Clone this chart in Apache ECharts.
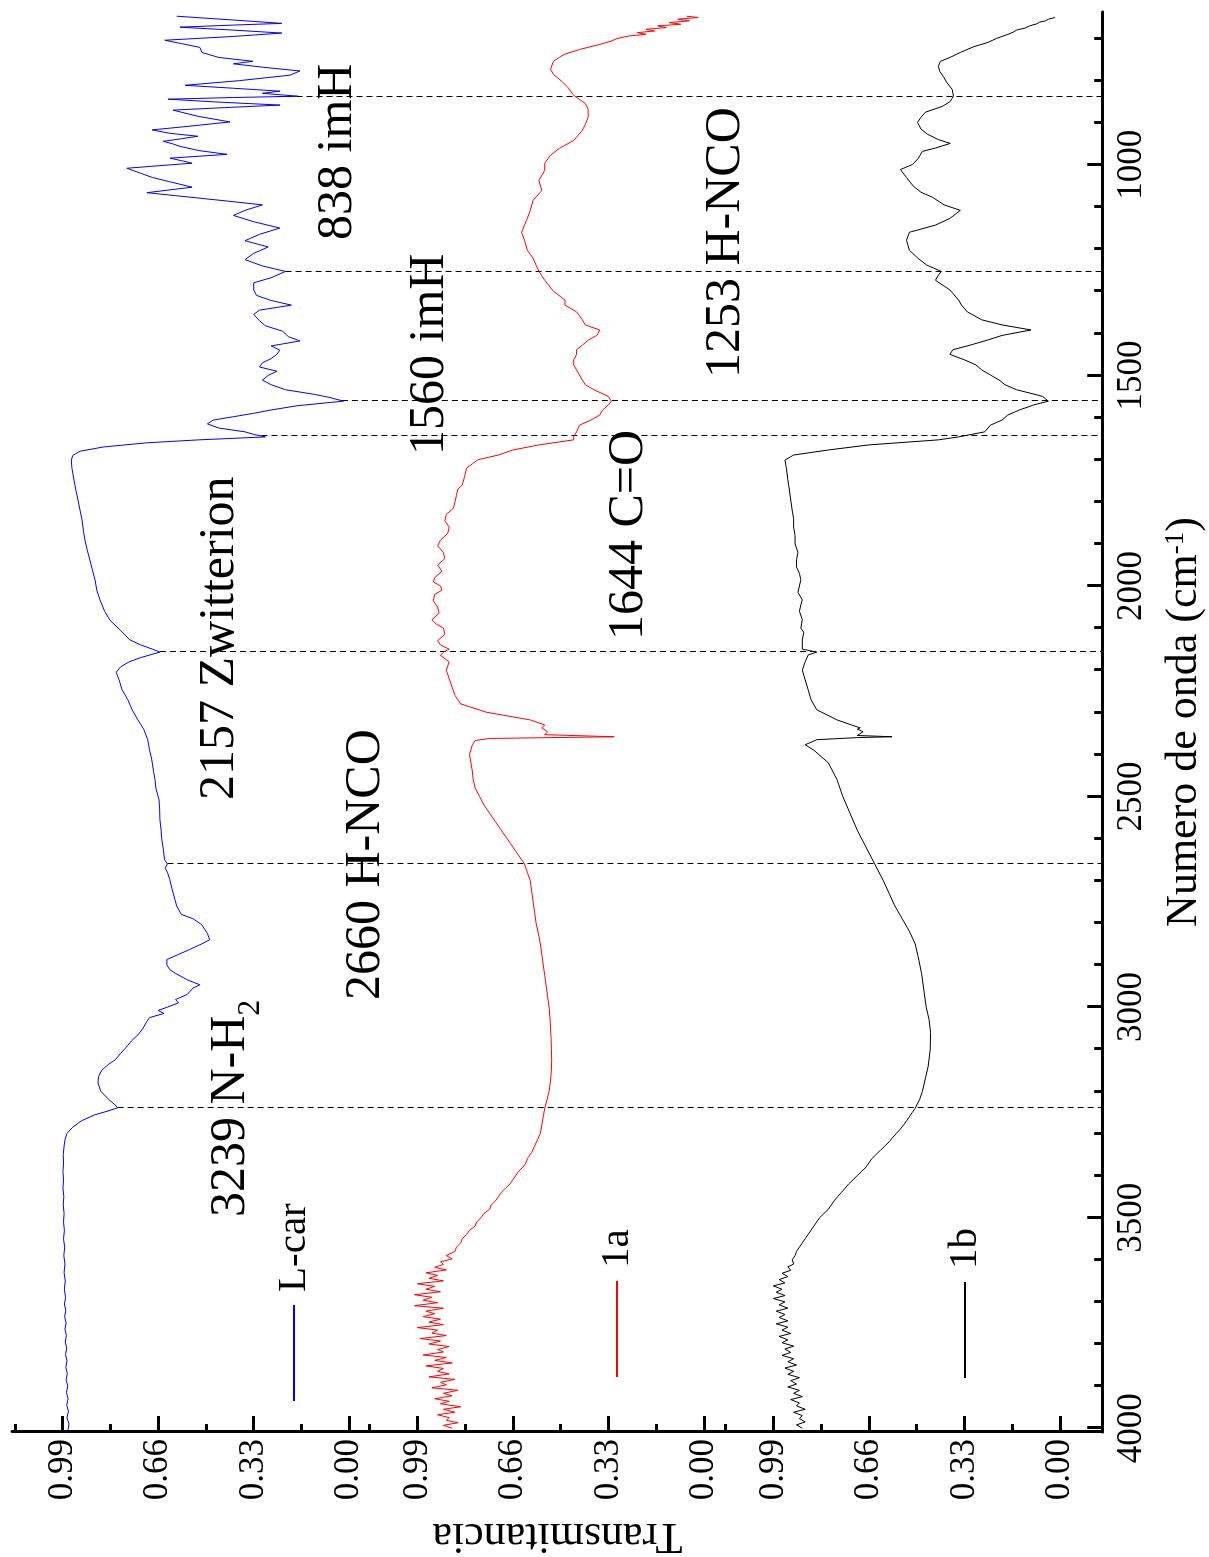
<!DOCTYPE html>
<html>
<head>
<meta charset="utf-8">
<script src="https://cdn.jsdelivr.net/npm/echarts@6/dist/echarts.min.js"></script>
<style>
  html, body { margin: 0; padding: 0; background: #fff; width: 1209px; height: 1557px; overflow: hidden; }
  /* the spectrum is laid out landscape and turned a quarter turn counter-clockwise */
  #chart { position: absolute; left: 0; top: 0; width: 1557px; height: 1209px;
           transform-origin: 0 0; transform: translateY(1557px) rotate(-90deg); }
</style>
</head>
<body>
<div id="chart"></div>
<script>
// ---- spectra: [wavenumber (cm-1), transmittance] ----
const lcar = [
  [4005,0.972],[3990,0.968],[3975,0.975],[3960,0.970],[3945,0.976],[3930,0.971],[3915,0.977],[3900,0.972],
  [3885,0.978],[3870,0.974],[3855,0.979],[3840,0.975],[3825,0.980],[3810,0.976],[3795,0.981],[3780,0.977],
  [3765,0.982],[3750,0.978],[3735,0.983],[3720,0.979],[3705,0.984],[3690,0.980],[3670,0.984],[3650,0.981],
  [3630,0.985],[3610,0.982],[3590,0.986],[3570,0.983],[3550,0.987],[3530,0.984],[3510,0.987],[3490,0.985],
  [3470,0.988],[3450,0.986],[3430,0.989],[3410,0.987],[3390,0.989],[3370,0.987],[3350,0.988],[3330,0.985],
  [3315,0.982],[3300,0.975],[3285,0.955],[3270,0.925],[3256,0.880],[3246,0.830],[3239,0.800],[3230,0.812],
  [3220,0.830],[3200,0.858],[3180,0.868],[3165,0.866],[3150,0.855],[3135,0.830],[3125,0.808],[3110,0.790],
  [3095,0.770],[3080,0.752],[3066,0.730],[3050,0.712],[3035,0.700],[3025,0.690],[3015,0.640],[3008,0.660],
  [3000,0.628],[2990,0.590],[2982,0.600],[2970,0.560],[2955,0.540],[2947,0.516],[2935,0.560],[2920,0.600],
  [2911,0.620],[2900,0.630],[2887,0.630],[2875,0.590],[2863,0.551],[2850,0.510],[2840,0.482],[2825,0.490],
  [2804,0.510],[2790,0.540],[2780,0.580],[2760,0.596],[2745,0.602],[2720,0.612],[2697,0.620],[2680,0.628],
  [2670,0.636],[2660,0.628],[2650,0.638],[2626,0.642],[2600,0.648],[2580,0.650],[2555,0.654],[2530,0.655],
  [2508,0.657],[2480,0.668],[2460,0.671],[2440,0.676],[2413,0.682],[2389,0.690],[2365,0.696],[2340,0.710],
  [2318,0.730],[2294,0.750],[2270,0.765],[2246,0.785],[2223,0.795],[2205,0.805],[2192,0.790],[2180,0.760],
  [2170,0.720],[2163,0.685],[2157,0.654],[2150,0.680],[2140,0.720],[2128,0.758],[2104,0.792],[2081,0.827],
  [2060,0.845],[2033,0.861],[2010,0.872],[1986,0.878],[1960,0.888],[1938,0.896],[1915,0.905],[1891,0.913],
  [1870,0.918],[1843,0.923],[1820,0.930],[1796,0.937],[1770,0.945],[1748,0.951],[1720,0.958],[1701,0.960],
  [1690,0.955],[1680,0.930],[1670,0.850],[1660,0.700],[1653,0.520],[1646,0.290],[1640,0.330],[1634,0.360],
  [1625,0.450],[1615,0.490],[1606,0.470],[1598,0.400],[1590,0.330],[1582,0.270],[1572,0.180],[1561,0.020],
  [1552,0.070],[1545,0.120],[1534,0.220],[1522,0.270],[1511,0.300],[1500,0.280],[1490,0.250],[1480,0.310],
  [1470,0.300],[1460,0.270],[1450,0.250],[1440,0.240],[1430,0.270],[1418,0.170],[1408,0.210],[1395,0.230],
  [1382,0.290],[1370,0.310],[1355,0.330],[1345,0.310],[1333,0.200],[1322,0.270],[1310,0.320],[1297,0.330],
  [1280,0.330],[1268,0.270],[1253,0.220],[1240,0.300],[1225,0.360],[1210,0.330],[1195,0.280],[1180,0.360],
  [1165,0.310],[1150,0.240],[1135,0.330],[1120,0.400],[1108,0.360],[1095,0.300],[1086,0.420],[1066,0.699],
  [1053,0.543],[1040,0.620],[1030,0.680],[1020,0.720],[1008,0.768],[1000,0.620],[996,0.543],[990,0.580],
  [984,0.619],[975,0.422],[966,0.520],[956,0.585],[950,0.610],[944,0.643],[938,0.580],[932,0.523],
  [925,0.620],[917,0.681],[908,0.550],[898,0.412],[885,0.520],[870,0.609],[864,0.430],[858,0.239],
  [851,0.450],[844,0.626],[840,0.400],[837,0.177],[830,0.300],[825,0.239],[818,0.400],[811,0.567],
  [800,0.380],[787,0.205],[777,0.170],[768,0.300],[760,0.400],[754,0.333],[745,0.450],[733,0.509],
  [721,0.516],[712,0.580],[704,0.637],[695,0.400],[687,0.233],[680,0.400],[673,0.585],[668,0.400],
  [664,0.233],[656,0.400],[647,0.596]
];

const sample1a = [
  [4000,0.87],[3993,0.90],[3987,0.85],[3981,0.89],[3975,0.88],[3968,0.92],[3962,0.86],[3955,0.90],
  [3949,0.84],[3942,0.91],[3936,0.88],[3930,0.93],[3923,0.87],[3917,0.90],[3910,0.85],[3904,0.94],
  [3897,0.89],[3891,0.91],[3884,0.86],[3878,0.95],[3871,0.88],[3865,0.92],[3858,0.90],[3852,0.96],
  [3845,0.87],[3839,0.93],[3832,0.89],[3826,0.97],[3819,0.90],[3813,0.92],[3806,0.88],[3800,0.95],
  [3793,0.91],[3787,0.98],[3780,0.89],[3774,0.94],[3767,0.92],[3761,0.99],[3754,0.90],[3748,0.95],
  [3741,0.91],[3735,0.97],[3728,0.93],[3722,0.96],[3715,0.90],[3709,1.00],[3702,0.92],[3696,0.97],
  [3689,0.94],[3683,1.00],[3676,0.91],[3670,0.96],[3663,0.93],[3657,0.99],[3650,0.90],[3644,0.95],
  [3637,0.92],[3631,0.96],[3624,0.89],[3618,0.93],[3611,0.90],[3605,0.91],[3598,0.87],[3590,0.89],
  [3580,0.86],[3570,0.855],[3560,0.84],[3550,0.835],[3540,0.82],[3530,0.81],[3520,0.79],[3510,0.785],
  [3500,0.77],[3490,0.76],[3480,0.74],[3470,0.735],[3460,0.72],[3450,0.71],[3440,0.70],[3430,0.685],
  [3420,0.67],[3410,0.66],[3400,0.65],[3390,0.64],[3380,0.625],[3370,0.615],[3360,0.61],[3345,0.595],
  [3330,0.585],[3315,0.575],[3300,0.565],[3280,0.56],[3260,0.555],[3240,0.55],[3220,0.542],[3200,0.535],
  [3175,0.530],[3150,0.527],[3125,0.526],[3100,0.527],[3075,0.528],[3050,0.53],[3025,0.532],[3000,0.535],
  [2975,0.540],[2950,0.545],[2925,0.550],[2900,0.555],[2875,0.560],[2850,0.565],[2825,0.572],[2800,0.58],
  [2775,0.585],[2750,0.59],[2725,0.595],[2700,0.60],[2680,0.61],[2660,0.62],[2645,0.635],[2630,0.65],
  [2615,0.665],[2600,0.68],[2580,0.70],[2560,0.72],[2540,0.74],[2520,0.76],[2500,0.775],[2480,0.79],
  [2460,0.797],[2440,0.80],[2420,0.805],[2400,0.81],[2389,0.805],[2377,0.80],[2367,0.79],[2362,0.74],
  [2358,0.31],[2353,0.55],[2346,0.54],[2337,0.56],[2330,0.55],[2318,0.60],[2300,0.75],[2280,0.84],
  [2260,0.86],[2240,0.87],[2220,0.88],[2200,0.89],[2180,0.88],[2165,0.91],[2157,0.90],[2150,0.88],
  [2140,0.91],[2130,0.92],[2115,0.895],[2100,0.90],[2090,0.925],[2080,0.94],[2065,0.915],[2050,0.92],
  [2035,0.935],[2020,0.93],[2010,0.905],[2000,0.91],[1990,0.935],[1980,0.93],[1965,0.905],[1950,0.92],
  [1935,0.895],[1920,0.90],[1905,0.92],[1891,0.91],[1875,0.885],[1860,0.88],[1845,0.895],[1830,0.89],
  [1815,0.865],[1800,0.86],[1785,0.855],[1770,0.85],[1760,0.835],[1748,0.83],[1735,0.825],[1720,0.82],
  [1710,0.80],[1700,0.78],[1689,0.71],[1677,0.66],[1665,0.57],[1653,0.45],
  [1646,0.45],[1634,0.44],[1618,0.43],[1606,0.39],[1594,0.36],[1582,0.35],[1570,0.33],[1561,0.32],
  [1550,0.33],[1534,0.38],[1522,0.41],[1511,0.42],[1499,0.43],[1487,0.44],[1475,0.45],[1463,0.45],
  [1450,0.44],[1439,0.44],[1428,0.42],[1416,0.40],[1405,0.37],[1392,0.36],[1380,0.41],[1368,0.42],
  [1349,0.44],[1333,0.48],[1321,0.48],[1300,0.52],[1274,0.55],[1253,0.57],[1238,0.58],[1222,0.59],
  [1203,0.61],[1179,0.62],[1160,0.63],[1143,0.62],[1127,0.61],[1108,0.60],[1084,0.59],[1061,0.56],
  [1037,0.57],[1013,0.55],[996,0.55],[977,0.53],[961,0.50],[942,0.45],[918,0.42],[904,0.41],
  [887,0.40],[868,0.40],[854,0.41],[835,0.45],[816,0.47],[802,0.49],[785,0.52],[773,0.53],
  [754,0.52],[745,0.50],[737,0.48],[726,0.43],[714,0.36],[706,0.32],[700,0.30],[694,0.26],
  [690,0.20],[686,0.23],[682,0.17],[678,0.20],[674,0.13],[670,0.16],[666,0.08],[662,0.12],
  [658,0.05],[654,0.09],[650,0.02],[647,0.06]
];

const sample1b = [
  [4000,0.89],[3992,0.91],[3985,0.88],[3977,0.90],[3970,0.89],[3962,0.92],[3955,0.88],[3947,0.91],
  [3940,0.90],[3932,0.93],[3925,0.89],[3917,0.92],[3910,0.90],[3902,0.94],[3895,0.91],[3887,0.93],
  [3880,0.90],[3872,0.94],[3865,0.92],[3857,0.95],[3850,0.91],[3842,0.94],[3835,0.92],[3827,0.96],
  [3820,0.93],[3812,0.95],[3805,0.92],[3797,0.96],[3790,0.94],[3782,0.97],[3775,0.93],[3767,0.96],
  [3760,0.94],[3752,0.98],[3745,0.94],[3737,0.97],[3730,0.95],[3722,0.98],[3715,0.94],[3707,0.97],
  [3700,0.95],[3692,0.99],[3685,0.95],[3677,0.98],[3670,0.96],[3662,0.99],[3655,0.95],[3647,0.97],
  [3640,0.94],[3632,0.96],[3625,0.93],[3617,0.94],[3610,0.92],[3600,0.925],[3590,0.915],[3580,0.91],
  [3570,0.90],[3560,0.89],[3550,0.88],[3540,0.87],[3530,0.86],[3520,0.85],[3510,0.84],[3500,0.83],
  [3490,0.815],[3480,0.80],[3470,0.79],[3460,0.78],[3450,0.768],[3440,0.755],[3430,0.742],[3420,0.73],
  [3410,0.715],[3400,0.70],[3390,0.685],[3380,0.67],[3370,0.66],[3360,0.65],[3350,0.635],[3340,0.62],
  [3330,0.605],[3320,0.59],[3310,0.578],[3300,0.565],[3290,0.552],[3280,0.54],[3270,0.53],[3260,0.52],
  [3250,0.51],[3240,0.50],[3220,0.485],[3200,0.475],[3170,0.465],[3140,0.455],[3100,0.448],[3060,0.447],
  [3030,0.452],[3000,0.462],[2960,0.47],[2920,0.478],[2880,0.49],[2850,0.50],[2820,0.52],[2790,0.545],
  [2760,0.57],[2730,0.59],[2700,0.61],[2660,0.64],[2620,0.67],[2580,0.70],[2540,0.725],[2500,0.75],
  [2460,0.77],[2420,0.80],[2390,0.85],[2377,0.88],[2365,0.84],[2360,0.70],[2358,0.58],[2355,0.70],
  [2346,0.68],[2340,0.70],[2337,0.69],[2330,0.72],[2318,0.77],[2294,0.84],[2270,0.86],[2246,0.87],
  [2223,0.88],[2200,0.89],[2180,0.88],[2164,0.87],[2157,0.84],[2150,0.89],[2128,0.89],[2110,0.885],
  [2100,0.895],[2080,0.89],[2060,0.90],[2045,0.895],[2033,0.89],[2015,0.905],[2000,0.90],[1985,0.895],
  [1970,0.90],[1955,0.91],[1938,0.91],[1920,0.905],[1900,0.915],[1880,0.915],[1860,0.92],[1840,0.92],
  [1820,0.925],[1796,0.93],[1770,0.935],[1748,0.94],[1720,0.945],
  [1701,0.95],[1689,0.92],[1677,0.80],[1665,0.66],[1653,0.42],[1646,0.35],[1634,0.26],[1618,0.24],
  [1606,0.20],[1594,0.18],[1582,0.14],[1570,0.09],[1561,0.04],[1550,0.06],[1546,0.08],[1534,0.15],
  [1522,0.19],[1511,0.21],[1499,0.24],[1487,0.27],[1475,0.29],[1463,0.33],[1450,0.38],[1439,0.37],
  [1428,0.31],[1416,0.25],[1405,0.20],[1392,0.10],[1380,0.20],[1368,0.27],[1349,0.32],[1333,0.34],
  [1321,0.35],[1297,0.38],[1274,0.43],[1262,0.42],[1253,0.41],[1238,0.46],[1222,0.49],[1203,0.52],
  [1179,0.53],[1160,0.52],[1143,0.43],[1127,0.38],[1108,0.344],[1095,0.40],[1077,0.440],[1065,0.48],
  [1051,0.506],[1030,0.53],[1011,0.551],[999,0.509],[985,0.49],[968,0.475],[960,0.43],[949,0.379],
  [940,0.42],[927,0.458],[915,0.48],[899,0.492],[887,0.48],[875,0.465],[861,0.406],[850,0.38],
  [837,0.368],[821,0.372],[805,0.39],[790,0.403],[778,0.415],[766,0.420],[754,0.413],[745,0.38],
  [733,0.344],[720,0.30],[709,0.248],[700,0.22],[695,0.20],[690,0.18],[685,0.162],[680,0.15],
  [675,0.12],[670,0.105],[665,0.08],[661,0.07],[658,0.05],[654,0.04],[650,0.017]
];

// ---- band assignments marked on the spectra ----
const markerWavenumbers = [838, 1560, 1253, 1644, 2157, 2660, 3239];
const markerAssignments = ['imH', 'imH', 'H-NCO', 'C=O', 'Zwitterion', 'H-NCO', 'N-H'];
const markerSubscripts  = ['', '', '', '', '', '', '2'];

// ---- axis ticks ----
const wnMajorTicks = [1000, 1500, 2000, 2500, 3000, 3500, 4000];
const wnMinorTicks = [700, 800, 900, 1100, 1200, 1300, 1400, 1600, 1700, 1800, 1900, 2100, 2200, 2300, 2400,
                      2600, 2700, 2800, 2900, 3100, 3200, 3300, 3400, 3600, 3700, 3800, 3900];
const tMajorTicks = [0, 0.33, 0.66, 0.99];
const tMinorTicks = [0.165, 0.495, 0.825, 1.155];

const seriesNames = ['L-car', '1a', '1b'];
const seriesColors = ['#0000ff', '#ff0000', '#000000'];

// ---- layout (landscape chart pixels) ----
const FONT = '"Liberation Serif", "Times New Roman", serif';
const PLOT_LEFT = 125, PLOT_WIDTH = 1420;
const PANEL_TOPS = [12, 366.7, 722.7], PANEL_HEIGHT = 379.5;
const T_MIN = -0.146, T_MAX = 1.165;
const WN_MIN = 637, WN_MAX = 4009;
const OVERLAY_MIN = -2.6007;             // panel-1 units down to the wavenumber axis
const labelAnchors = [[1317, 337.5], [1102, 430], [1179, 726], [917, 629], [757, 220], [557, 366], [340, 230.5]];
const legendAnchors = [[155, 294], [179, 617], [178, 965]];

function interp(data, wn) {
  for (let i = 0; i < data.length - 1; i++) {
    const a = data[i], b = data[i + 1];
    if ((a[0] - wn) * (b[0] - wn) <= 0) {
      const f = (wn - a[0]) / (b[0] - a[0]);
      return a[1] + f * (b[1] - a[1]);
    }
  }
  return data[data.length - 1][1];
}

const chart = echarts.init(document.getElementById('chart'), null, { renderer: 'canvas' });

const grids = PANEL_TOPS.map(t => ({ left: PLOT_LEFT, top: t, width: PLOT_WIDTH, height: PANEL_HEIGHT }));
grids.push({ left: PLOT_LEFT, top: PANEL_TOPS[0], width: PLOT_WIDTH, height: PANEL_TOPS[2] + PANEL_HEIGHT - PANEL_TOPS[0] });

const axisLineStyle = { color: '#000', width: 3 };
const xAxes = [0, 1, 2].map(i => ({
  gridIndex: i, type: 'value', min: WN_MIN, max: WN_MAX, inverse: true,
  show: i === 2, position: 'bottom',
  axisLine: { show: true, onZero: false, lineStyle: axisLineStyle },
  axisTick: { show: true, inside: true, length: 15, customValues: wnMajorTicks, lineStyle: { color: '#000', width: 3 } },
  axisLabel: { show: true, customValues: wnMajorTicks, margin: 12, fontFamily: FONT, fontSize: 35, color: '#000',
               formatter: v => String(v) },
  splitLine: { show: false }
}));
xAxes.push({
  gridIndex: 2, type: 'value', min: WN_MIN, max: WN_MAX, inverse: true, position: 'bottom',
  axisLine: { show: false, onZero: false },
  axisTick: { show: true, inside: true, length: 8, customValues: wnMinorTicks, lineStyle: { color: '#000', width: 3 } },
  axisLabel: { show: false }, splitLine: { show: false }
});
xAxes.push({ gridIndex: 3, type: 'value', min: WN_MIN, max: WN_MAX, inverse: true, show: false });

const yAxes = [0, 1, 2].map(i => ({
  gridIndex: i, type: 'value', min: T_MIN, max: T_MAX, position: 'left',
  axisLine: { show: true, onZero: false, lineStyle: axisLineStyle },
  axisTick: { show: true, inside: true, length: 16, customValues: tMajorTicks, lineStyle: { color: '#000', width: 3 } },
  axisLabel: { show: true, customValues: tMajorTicks, margin: 7, fontFamily: FONT, fontSize: 35, color: '#000',
               formatter: v => v.toFixed(2) },
  splitLine: { show: false }
}));
[0, 1, 2].forEach(i => yAxes.push({
  gridIndex: i, type: 'value', min: T_MIN, max: T_MAX, position: 'left',
  axisLine: { show: false, onZero: false },
  axisTick: { show: true, inside: true, length: 8, customValues: tMinorTicks, lineStyle: { color: '#000', width: 3 } },
  axisLabel: { show: false }, splitLine: { show: false }
}));
yAxes.push({ gridIndex: 3, type: 'value', min: OVERLAY_MIN, max: T_MAX, show: false });

const spectra = [lcar, sample1a, sample1b];
const series = spectra.map((d, i) => ({
  name: seriesNames[i], type: 'line', xAxisIndex: i, yAxisIndex: i, data: d,
  symbol: 'none', showSymbol: false, smooth: false, silent: true,
  lineStyle: { color: seriesColors[i], width: 1 }, itemStyle: { color: seriesColors[i] }
}));
series.push({
  name: 'markers', type: 'lines', coordinateSystem: 'cartesian2d', xAxisIndex: 4, yAxisIndex: 6,
  silent: true, z: 1,
  lineStyle: { color: '#000', width: 1, type: [6, 4], opacity: 1 },
  data: markerWavenumbers.map(wn => ({ coords: [[wn, interp(lcar, wn)], [wn, OVERLAY_MIN]] }))
});

const legends = seriesNames.map((n, i) => ({
  data: [n], orient: 'horizontal', left: legendAnchors[i][0], top: legendAnchors[i][1] - 20.5,
  padding: 0, itemWidth: 96, itemHeight: 2, selectedMode: false,
  itemStyle: { opacity: 0 },
  textStyle: { fontFamily: FONT, fontSize: 41, lineHeight: 41, color: '#000', padding: [0, 0, 0, 8] }
}));

const graphics = [];
markerWavenumbers.forEach((wn, i) => {
  const [x, y] = labelAnchors[i];
  const main = wn + ' ' + markerAssignments[i];
  if (markerSubscripts[i]) {
    graphics.push({
      type: 'text', x: x, y: y - 25, silent: true,
      style: {
        text: '{a|' + main + '}{s|' + markerSubscripts[i] + '}',
        align: 'left', verticalAlign: 'top', fill: '#000',
        rich: {
          a: { fontFamily: FONT, fontSize: 50, lineHeight: 50, verticalAlign: 'top', fill: '#000' },
          s: { fontFamily: FONT, fontSize: 32, lineHeight: 32, verticalAlign: 'top', padding: [29, 0, 0, 0], fill: '#000' }
        }
      }
    });
  } else {
    graphics.push({
      type: 'text', x: x, y: y, silent: true,
      style: { text: main, font: '50px ' + FONT, fill: '#000', align: 'left', verticalAlign: 'middle' }
    });
  }
});
// axis titles
graphics.push({
  type: 'text', x: 21, y: 557.5, rotation: Math.PI / 2, silent: true,
  style: { text: 'Transmitancia', font: '44px ' + FONT, fill: '#000', align: 'center', verticalAlign: 'middle' }
});
graphics.push({
  type: 'text', x: PLOT_LEFT + PLOT_WIDTH / 2, y: 1184.7, silent: true,
  style: {
    text: '{a|Numero de onda (cm}{s|-1}{a|)}', align: 'center', verticalAlign: 'middle', fill: '#000',
    rich: {
      a: { fontFamily: FONT, fontSize: 44, lineHeight: 44, padding: [8, 0, 0, 0], verticalAlign: 'bottom', fill: '#000' },
      s: { fontFamily: FONT, fontSize: 27, lineHeight: 27, verticalAlign: 'top', fill: '#000' }
    }
  }
});

chart.setOption({
  animation: false,
  backgroundColor: '#fff',
  grid: grids,
  xAxis: xAxes,
  yAxis: yAxes,
  legend: legends,
  series: series,
  graphic: graphics
});
</script>
</body>
</html>
